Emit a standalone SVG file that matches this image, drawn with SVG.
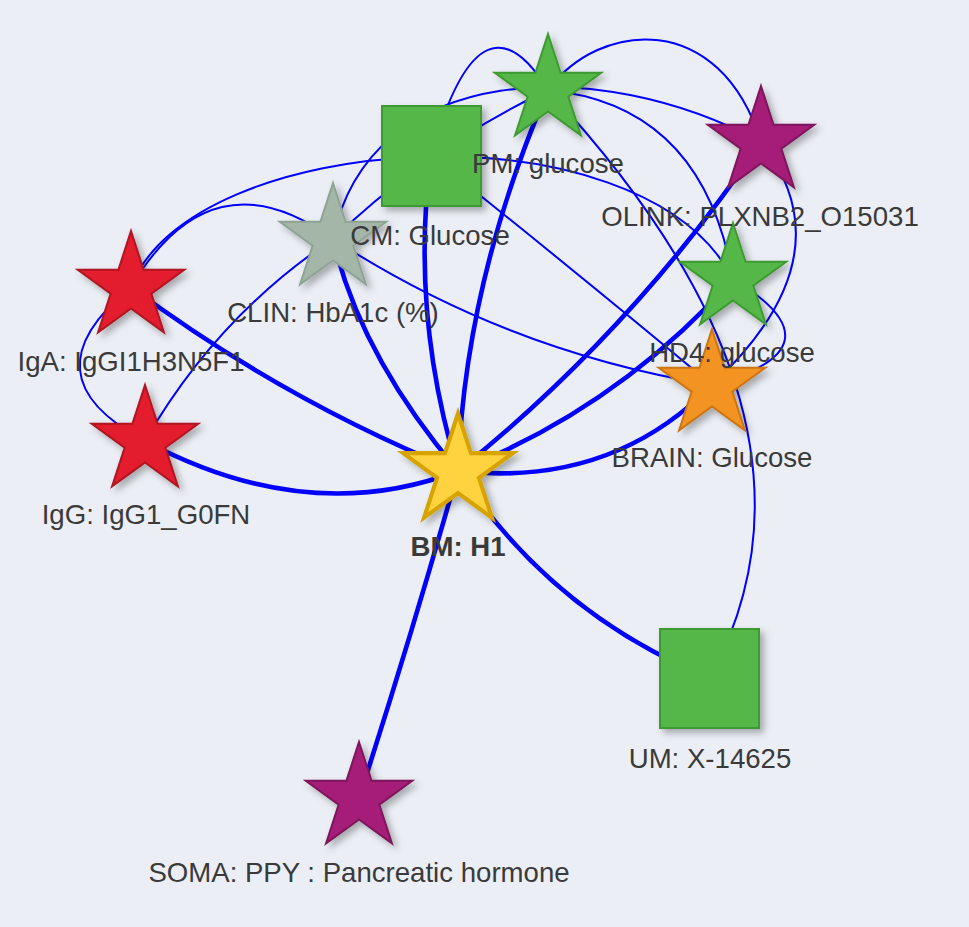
<svg xmlns="http://www.w3.org/2000/svg" width="969" height="927" viewBox="0 0 969 927">
<defs>
<style>
.thin{fill:none;stroke:#0000ff;stroke-width:2}
.thick{fill:none;stroke:#0000ff;stroke-width:4.6}
.lbl{font-family:"Liberation Sans",Arial,sans-serif;font-size:27.6px;fill:#3a3a3a;text-anchor:middle}
.bold{font-weight:bold}
.node{filter:url(#sh)}
.green{fill:#57b74a;stroke:#3d9a31;stroke-width:2}
.red{fill:#e31b2e;stroke:#b01320;stroke-width:2}
.purple{fill:#a51f79;stroke:#7d155b;stroke-width:2}
.grey{fill:#a3b6a8;stroke:#8ea393;stroke-width:2}
.orange{fill:#f29322;stroke:#cc7412;stroke-width:2}
.yellow{fill:#ffd23f;stroke:#d6a300;stroke-width:4}
</style>
<filter id="sh" x="-30%" y="-30%" width="170%" height="170%">
<feDropShadow dx="4" dy="4" stdDeviation="3.5" flood-color="#000" flood-opacity="0.3"/>
</filter>
<path id="star" d="M0,-56 L12.57,-17.3 L53.26,-17.3 L20.34,6.61 L32.92,45.3 L0,21.39 L-32.92,45.3 L-20.34,6.61 L-53.26,-17.3 L-12.57,-17.3 Z"/>
</defs>
<rect width="969" height="927" fill="#ebeff5"/>
<g id="edges">
<path class="thin" d="M131,287 Q212,151 333,239"/>
<path class="thin" d="M131,287 C190,130 640,100 733,279"/>
<path class="thin" d="M131,287 Q22,376 145,441"/>
<path class="thin" d="M145,441 Q217,316 333,239"/>
<path class="thin" d="M333,239 Q430,146 548,90"/>
<path class="thin" d="M333,239 C370,60 600,55 761,142"/>
<path class="thin" d="M431,156 Q480,-20 548,90"/>
<path class="thin" d="M431,156 Q580,275 712,385"/>
<path class="thin" d="M333,239 Q507,352 712,385"/>
<path class="thin" d="M548,90 C600,20 720,10 761,142"/>
<path class="thin" d="M548,90 Q703,105 733,279"/>
<path class="thin" d="M548,90 Q851,416 710,678"/>
<path class="thin" d="M761,142 Q850,256 712,385"/>
<path class="thin" d="M733,279 Q847,348 712,385"/>
<path class="thick" d="M131,287 Q283,400 458,471"/>
<path class="thick" d="M145,441 Q308,528 458,471"/>
<path class="thick" d="M333,239 Q360,355 458,471"/>
<path class="thick" d="M431,156 Q410,313 458,471"/>
<path class="thick" d="M548,90 Q465,281 458,471"/>
<path class="thick" d="M761,142 Q632,332 458,471"/>
<path class="thick" d="M733,279 Q618,408 458,471"/>
<path class="thick" d="M712,385 Q611,488 458,471"/>
<path class="thick" d="M458,471 Q552,614 710,678"/>
<path class="thick" d="M458,471 Q412,634 359,798"/>
</g>
<g id="n-iga" class="node"><use href="#star" class="red" transform="translate(131,287)"/></g>
<g id="n-igg" class="node"><use href="#star" class="red" transform="translate(145,441)"/></g>
<g id="n-clin" class="node"><use href="#star" class="grey" transform="translate(333,239)"/></g>
<g id="n-cm" class="node"><rect class="green" x="382" y="106" width="99" height="100"/></g>
<g id="n-pm" class="node"><use href="#star" class="green" transform="translate(548,90)"/></g>
<g id="n-olink" class="node"><use href="#star" class="purple" transform="translate(761,142)"/></g>
<g id="n-hd4" class="node"><use href="#star" class="green" transform="translate(733,279)"/></g>
<g id="n-brain" class="node"><use href="#star" class="orange" transform="translate(712,385)"/></g>
<g id="n-um" class="node"><rect class="green" x="660" y="629" width="99" height="99"/></g>
<g id="n-soma" class="node"><use href="#star" class="purple" transform="translate(359,798)"/></g>
<g id="n-bm" class="node"><use href="#star" class="yellow" transform="translate(458,471) scale(1.03)"/></g>
<g id="labels">
<text class="lbl" x="131" y="371">IgA: IgGI1H3N5F1</text>
<text class="lbl" x="146" y="524">IgG: IgG1_G0FN</text>
<text class="lbl" x="333" y="322">CLIN: HbA1c (%)</text>
<text class="lbl" x="430" y="245">CM: Glucose</text>
<text class="lbl" x="548" y="173">PM: glucose</text>
<text class="lbl" x="760" y="226">OLINK: PLXNB2_O15031</text>
<text class="lbl" x="732" y="362">HD4: glucose</text>
<text class="lbl" x="712" y="467">BRAIN: Glucose</text>
<text class="lbl" x="710" y="768">UM: X-14625</text>
<text class="lbl" x="359" y="882">SOMA: PPY : Pancreatic hormone</text>
<text class="lbl bold" x="458" y="556">BM: H1</text>
</g>
</svg>
